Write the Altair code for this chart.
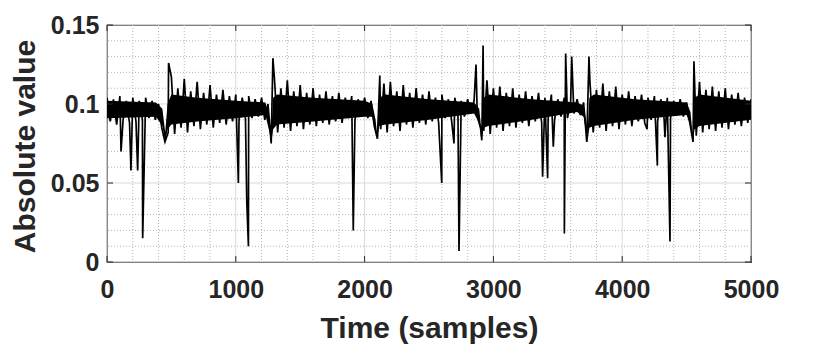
import altair as alt
import pandas as pd

# Upper envelope readings at samples 0, 50, 100, ..., 5000
upper = [
    0.104, 0.103, 0.105, 0.102, 0.104, 0.102, 0.104, 0.102, 0.100, 0.076,
    0.117, 0.110, 0.116, 0.108, 0.114, 0.107, 0.112, 0.106, 0.109, 0.105,
    0.106, 0.104, 0.105, 0.103, 0.104, 0.100, 0.116, 0.110, 0.115, 0.108,
    0.112, 0.107, 0.110, 0.106, 0.108, 0.105, 0.107, 0.104, 0.105, 0.103,
    0.104, 0.102, 0.078, 0.113, 0.114, 0.108, 0.112, 0.107, 0.110, 0.106,
    0.108, 0.104, 0.106, 0.103, 0.104, 0.102, 0.103, 0.102, 0.085, 0.115,
    0.110, 0.111, 0.107, 0.110, 0.106, 0.108, 0.105, 0.107, 0.104, 0.106,
    0.103, 0.104, 0.102, 0.103, 0.101, 0.113, 0.109, 0.113, 0.108, 0.111,
    0.106, 0.108, 0.105, 0.106, 0.104, 0.105, 0.103, 0.104, 0.102, 0.103,
    0.101, 0.076, 0.114, 0.109, 0.111, 0.108, 0.110, 0.106, 0.107, 0.104,
    0.103,
]
# Lower envelope readings at samples 25, 75, 125, ..., 4975
lower = [
    0.089, 0.087, 0.090, 0.088, 0.089, 0.090, 0.091, 0.090, 0.085, 0.082,
    0.081, 0.085, 0.082, 0.086, 0.084, 0.087, 0.085, 0.088, 0.087, 0.089,
    0.090, 0.091, 0.091, 0.092, 0.090, 0.075, 0.082, 0.085, 0.083, 0.086,
    0.084, 0.087, 0.086, 0.088, 0.087, 0.089, 0.088, 0.091, 0.090, 0.092,
    0.091, 0.086, 0.084, 0.082, 0.086, 0.083, 0.087, 0.085, 0.088, 0.087,
    0.089, 0.088, 0.091, 0.090, 0.093, 0.092, 0.094, 0.092, 0.083, 0.081,
    0.085, 0.083, 0.086, 0.085, 0.088, 0.086, 0.089, 0.088, 0.091, 0.090,
    0.092, 0.091, 0.094, 0.093, 0.076, 0.082, 0.085, 0.083, 0.086, 0.084,
    0.087, 0.086, 0.089, 0.088, 0.090, 0.089, 0.091, 0.091, 0.093, 0.092,
    0.088, 0.080, 0.082, 0.084, 0.083, 0.085, 0.084, 0.087, 0.086, 0.088,
]
# Dense core of the trace (sample, bottom, top)
core_t = [0, 380, 430, 452, 470, 500, 700, 1000, 1230, 1262, 1274, 1290, 1320,
          1600, 2000, 2060, 2085, 2096, 2115, 2160, 2500, 2850, 2890, 2908,
          2925, 2960, 3300, 3650, 3700, 3720, 3730, 3745, 3780, 4100, 4500,
          4530, 4547, 4562, 4600, 5000]
core_lo = [0.091, 0.092, 0.086, 0.076, 0.084, 0.087, 0.089, 0.091, 0.093, 0.082,
           0.075, 0.084, 0.087, 0.089, 0.092, 0.092, 0.082, 0.078, 0.086, 0.087,
           0.090, 0.094, 0.088, 0.077, 0.085, 0.086, 0.090, 0.095, 0.092, 0.082,
           0.076, 0.085, 0.086, 0.090, 0.093, 0.086, 0.076, 0.084, 0.086, 0.090]
core_hi = [0.102, 0.101, 0.097, 0.082, 0.100, 0.106, 0.104, 0.102, 0.101, 0.092,
           0.080, 0.104, 0.106, 0.104, 0.102, 0.100, 0.090, 0.082, 0.104, 0.106,
           0.103, 0.101, 0.097, 0.082, 0.104, 0.106, 0.103, 0.101, 0.099, 0.090,
           0.080, 0.104, 0.106, 0.103, 0.101, 0.095, 0.080, 0.104, 0.106, 0.102]
# Isolated spikes (sample, value)
spike_x = [109, 186, 238, 277, 478, 1020, 1085, 1098, 1288, 1912, 2118,
           2599, 2694, 2733, 2865, 2910, 2920, 3382, 3421, 3465, 3551, 3561,
           3608, 3742, 4193, 4273, 4332, 4371, 4557]
spike_y = [0.070, 0.058, 0.058, 0.015, 0.126, 0.050, 0.039, 0.010, 0.129, 0.020, 0.118,
           0.050, 0.075, 0.007, 0.125, 0.077, 0.137, 0.054, 0.053, 0.073, 0.018, 0.132,
           0.130, 0.130, 0.084, 0.061, 0.079, 0.013, 0.127]

x_ticks = [0, 1000, 2000, 3000, 4000, 5000]
y_ticks = [0, 0.05, 0.1, 0.15]
y_tick_labels = ["0", "0.05", "0.1", "0.15"]
x_minor = [v for v in range(200, 5000, 200) if v % 1000 != 0]
y_minor = [0.01, 0.02, 0.03, 0.04, 0.06, 0.07, 0.08, 0.09,
           0.11, 0.12, 0.13, 0.14]

df_u = pd.DataFrame({"t": [50 * i for i in range(len(upper))], "v": upper})
df_l = pd.DataFrame({"t": [25 + 50 * i for i in range(len(lower))], "v": lower})
df_s = pd.DataFrame({"t": spike_x, "v": spike_y})
df = pd.concat([df_u, df_l, df_s]).sort_values("t").reset_index(drop=True)
df["order"] = range(len(df))
df_core = pd.DataFrame({"t": core_t, "lo": core_lo, "hi": core_hi})

FONT = "Liberation Sans"
TXT = "#262626"
xs = alt.Scale(domain=[0, 5000], nice=False, zero=False)
ys = alt.Scale(domain=[0, 0.15], nice=False, zero=False)

ylab_expr = "{" + ", ".join(f"'{v}': '{s}'" for v, s in zip(y_ticks, y_tick_labels)) + "}"

x_axis = alt.Axis(
    values=x_ticks, grid=False, ticks=False, domain=False, tickSize=0,
    labelFont=FONT, labelFontSize=25, labelFontWeight="bold", labelColor=TXT,
    labelPadding=15, format="d", labelFlush=False, labelOverlap=False,
    title="Time (samples)", titleFont=FONT, titleFontSize=30,
    titleFontWeight="bold", titleColor=TXT, titleBaseline="alphabetic",
    titleY=75)
y_axis = alt.Axis(
    values=y_ticks, grid=False, ticks=False, domain=False, tickSize=0,
    labelFont=FONT, labelFontSize=25, labelFontWeight="bold", labelColor=TXT,
    labelPadding=8, labelFlush=False, labelOverlap=False,
    labelExpr=f"{ylab_expr}[toString(datum.value)]",
    title="Absolute value", titleFont=FONT, titleFontSize=30,
    titleFontWeight="bold", titleColor=TXT, titleBaseline="alphabetic",
    titleX=-73, titleY=121)


def X(f):
    return alt.X(f, scale=xs, axis=x_axis, title="Time (samples)")


def Y(f):
    return alt.Y(f, scale=ys, axis=y_axis, title="Absolute value")


vminor = alt.Chart(pd.DataFrame({"x": x_minor})).mark_rule(
    color="#b5b5b5", strokeWidth=1, strokeDash=[1, 2]).encode(x=X("x:Q"))
hminor = alt.Chart(pd.DataFrame({"y": y_minor})).mark_rule(
    color="#b5b5b5", strokeWidth=1, strokeDash=[1, 2]).encode(y=Y("y:Q"))
vmajor = alt.Chart(pd.DataFrame({"x": x_ticks})).mark_rule(
    color="#dadada", strokeWidth=1).encode(x=X("x:Q"))
hmajor = alt.Chart(pd.DataFrame({"y": y_ticks})).mark_rule(
    color="#dadada", strokeWidth=1).encode(y=Y("y:Q"))

core = alt.Chart(df_core).mark_area(color="black", clip=True).encode(
    x=X("t:Q"), y=Y("lo:Q"), y2="hi:Q")

line = alt.Chart(df).mark_line(
    color="black", strokeWidth=1.7, strokeJoin="miter", clip=True
).encode(x=X("t:Q"), y=Y("v:Q"), order="order:Q")

tick_df_x = pd.DataFrame({"x": x_ticks})
tick_df_y = pd.DataFrame({"y": y_ticks})
tb = alt.Chart(tick_df_x).mark_rule(color=TXT, strokeWidth=1).encode(
    x=X("x:Q"), y=alt.value(237), y2=alt.value(231))
tt = alt.Chart(tick_df_x).mark_rule(color=TXT, strokeWidth=1).encode(
    x=X("x:Q"), y=alt.value(0), y2=alt.value(6))
tl = alt.Chart(tick_df_y).mark_rule(color=TXT, strokeWidth=1).encode(
    y=Y("y:Q"), x=alt.value(0), x2=alt.value(6))
tr = alt.Chart(tick_df_y).mark_rule(color=TXT, strokeWidth=1).encode(
    y=Y("y:Q"), x=alt.value(644), x2=alt.value(638))

chart = alt.layer(vminor, hminor, vmajor, hmajor, core, line,
                  tb, tt, tl, tr).properties(
    width=644, height=237,
    autosize=alt.AutoSizeParams(type="none"),
    padding={"left": 99, "top": 17, "right": 71, "bottom": 84},
    background="white",
).configure_view(stroke=TXT, strokeWidth=1.2)

chart.save("out.html", embed_options={"renderer": "svg", "actions": False})
